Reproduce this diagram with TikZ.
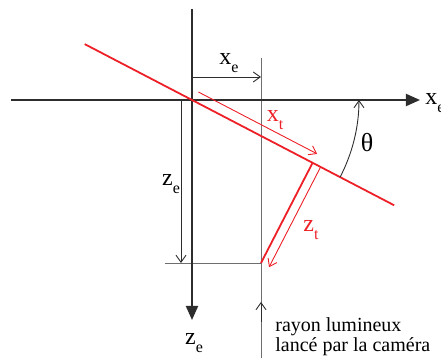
\documentclass[tikz,border=0pt]{standalone}
\usepackage{fontspec}
\setmainfont{Liberation Serif}
\usetikzlibrary{arrows.meta}
\definecolor{axisgray}{RGB}{45,45,45}
\definecolor{linegray}{RGB}{110,110,110}
\definecolor{myred}{RGB}{237,32,40}
\newcommand\lbl[2]{#1\raisebox{-0.35em}{\fontsize{8}{9}\selectfont #2}}
\tikzset{
  axis/.style={draw=axisgray,line width=1pt,-{Triangle[length=7pt,width=6pt]}},
  thinl/.style={draw=linegray,line width=0.45pt},
  dim/.style={draw=axisgray,line width=0.45pt,-{Straight Barb[length=3.5pt,width=5pt]}},
  reddim/.style={draw=myred,line width=0.45pt,-{Straight Barb[length=3.5pt,width=5pt]}},
  redline/.style={draw=myred,line width=0.9pt},
  txt/.style={inner sep=0pt,font=\fontsize{12}{14}\selectfont},
  redtxt/.style={txt,text=myred},
  note/.style={inner sep=0pt,font=\fontsize{10}{10}\selectfont,align=left,anchor=base west}
}
\begin{document}
\begin{tikzpicture}[x=0.5pt,y=-0.5pt]
\useasboundingbox (0,0) rectangle (441,358);
% key points
\coordinate (O) at (192,100);
\coordinate (Xa) at (11,100);
\coordinate (Xb) at (420,100);
\coordinate (Za) at (192,9);
\coordinate (Zb) at (192,320);
\coordinate (RL) at (84.7,44.1);
\coordinate (RR) at (394.2,205.3);
\coordinate (P) at (312.6,162.8);
\coordinate (B) at (261,263);
\coordinate (Vt) at (261,58);
\coordinate (Vb) at (261,358);
\coordinate (Va) at (261,322);
\coordinate (Vh) at (261,302);
\coordinate (Hl) at (165,263);
\coordinate (XeA) at (192,77);
\coordinate (XeB) at (261,77);
\coordinate (ZeA) at (181,100);
\coordinate (ZeB) at (181,263);
\coordinate (XtA) at (198.4,92);
\coordinate (XtB) at (317.2,153.9);
\coordinate (ZtA) at (320.6,167);
\coordinate (ZtB) at (269,267.2);
\coordinate (ThA) at (340.1,177.1);
% thin gray lines
\draw[thinl] (Vt) -- (Vb);
\draw[thinl] (Hl) -- (B);
\draw[dim,draw=axisgray] (Va) -- (Vh);
% axes
\draw[axis] (Xa) -- (Xb);
\draw[axis] (Za) -- (Zb);
% dimensions
\draw[dim] (XeA) -- (XeB);
\draw[dim] (ZeA) -- (ZeB);
% red lines
\draw[redline] (RL) -- (RR);
\draw[redline] (P) -- (B);
\draw[reddim] (XtA) -- (XtB);
\draw[reddim] (ZtA) -- (ZtB);
% angle
\draw[dim] (ThA) arc[start angle=27.5,end angle=0,radius=167];
% labels
\node[txt] (lxe) at (229,63) {\lbl{x}{e}};
\node[txt,anchor=west] (lxaxis) at (425,103) {\lbl{x}{e}};
\node[txt] (lzeL) at (171,184) {\lbl{z}{e}};
\node[txt] (lzeB) at (194,343) {\lbl{z}{e}};
\node[redtxt] (lxt) at (275,120) {\lbl{x}{t}};
\node[redtxt] (lzt) at (311,230) {\lbl{z}{t}};
\node[txt,font=\fontsize{13}{14}\selectfont] (lth) at (367,143) {θ};
\node[note] (ray) at (275,332) {rayon lumineux};
\node[note] (lan) at (275,352) {lancé par la caméra};
\end{tikzpicture}
\end{document}
